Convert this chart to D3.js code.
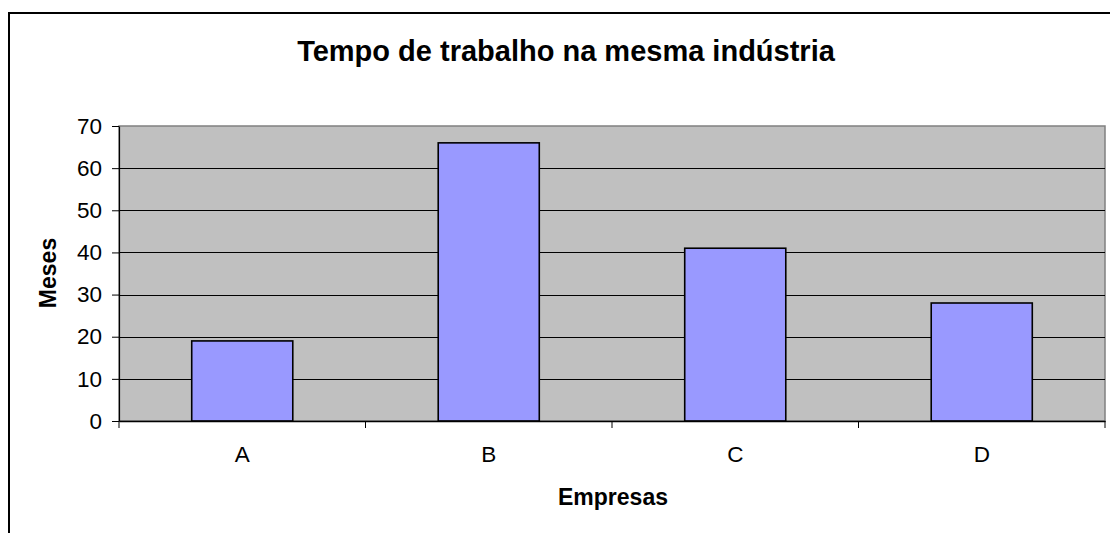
<!DOCTYPE html>
<html><head><meta charset="utf-8">
<script src="https://cdn.jsdelivr.net/npm/d3@7"></script>
<style>body{margin:0;background:#fff}svg{display:block}text{font-family:"Liberation Sans",Arial,sans-serif;fill:#000}</style>
</head><body>
<svg id="c" width="1110" height="533"></svg>
<script>
const categories = ["A","B","C","D"];
const values = [19,66,41,28];
const yTicks = [0,10,20,30,40,50,60,70];
const title = "Tempo de trabalho na mesma indústria";
const xTitle = "Empresas";
const yTitle = "Meses";

const svg = d3.select("#c");
const L=119, R=1105, T=126, B=421;
const x = d3.scaleBand().domain(categories).range([L,R]).paddingInner(0.59).paddingOuter(0.295);
const y = d3.scaleLinear().domain([0,70]).range([B,T]);

// outer border
svg.append("rect").attr("x",9).attr("y",13).attr("width",1300).attr("height",700)
  .attr("fill","none").attr("stroke","#000").attr("stroke-width",2);

// plot area
svg.append("rect").attr("x",L).attr("y",T).attr("width",R-L).attr("height",B-T)
  .attr("fill","#c0c0c0").attr("stroke","#808080").attr("stroke-width",1.5);

// gridlines
svg.append("g").selectAll("line").data(yTicks.filter(d=>d>0&&d<70)).join("line")
  .attr("x1",L).attr("x2",R).attr("y1",d=>Math.round(y(d))+0.5).attr("y2",d=>Math.round(y(d))+0.5)
  .attr("stroke","#000").attr("stroke-width",1);

// bars
svg.append("g").selectAll("rect").data(values).join("rect")
  .attr("x",(d,i)=>x(categories[i])).attr("width",x.bandwidth())
  .attr("y",d=>y(d)).attr("height",d=>y(0)-y(d))
  .attr("fill","#9999ff").attr("stroke","#000").attr("stroke-width",1.6);

// y axis
const ya = svg.append("g").attr("transform",`translate(${L},0)`)
  .call(d3.axisLeft(y).tickValues(yTicks).tickSize(7).tickPadding(10).tickSizeOuter(0));
ya.select(".domain").attr("stroke","#000").attr("stroke-width",1.2);
ya.selectAll("line").attr("stroke","#000");
ya.selectAll("text").attr("font-size",22.5).attr("font-family","Liberation Sans, Arial, sans-serif");

// x axis
const xa = svg.append("g").attr("transform",`translate(0,${B})`)
  .call(d3.axisBottom(x).tickSize(0).tickPadding(25).tickSizeOuter(0));
xa.select(".domain").attr("stroke","#000").attr("stroke-width",1.5);
xa.selectAll("text").attr("font-size",22.5).attr("font-family","Liberation Sans, Arial, sans-serif");
const bounds = d3.range(categories.length+1).map(i=>L+i*x.step());
svg.append("g").selectAll("line").data(bounds).join("line")
  .attr("x1",d=>d).attr("x2",d=>d).attr("y1",B).attr("y2",B+7).attr("stroke","#000");

// titles
svg.append("text").attr("x",566).attr("y",61).attr("text-anchor","middle")
  .attr("font-size",29).attr("font-weight","bold").text(title);
svg.append("text").attr("x",613).attr("y",505).attr("text-anchor","middle")
  .attr("font-size",23).attr("font-weight","bold").text(xTitle);
svg.append("text").attr("transform","translate(56,273) rotate(-90)").attr("text-anchor","middle")
  .attr("font-size",23).attr("font-weight","bold").text(yTitle);
</script>
</body></html>
